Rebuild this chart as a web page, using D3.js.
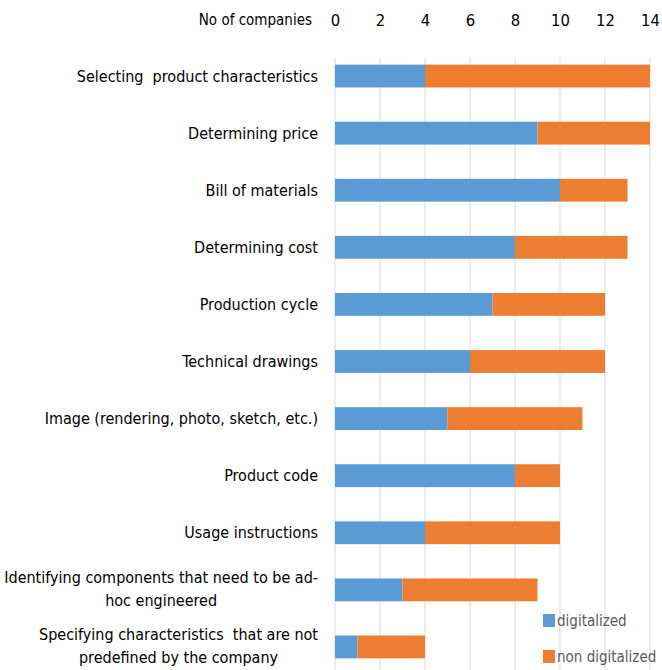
<!DOCTYPE html>
<html>
<head>
<meta charset="utf-8">
<script src="https://cdn.jsdelivr.net/npm/d3@7"></script>
<style>
  body { margin: 0; background: #fff; }
  text { font-family: "Liberation Sans Narrow", "DejaVu Sans Condensed", "Liberation Sans", sans-serif; fill: #000; white-space: pre; }
</style>
</head>
<body>
<div id="chart"></div>
<script>
// chart data
const categories = [
  ["Selecting  product characteristics"],
  ["Determining price"],
  ["Bill of materials"],
  ["Determining cost"],
  ["Production cycle"],
  ["Technical drawings"],
  ["Image (rendering, photo, sketch, etc.)"],
  ["Product code"],
  ["Usage instructions"],
  ["Identifying components that need to be ad-", "hoc engineered"],
  ["Specifying characteristics  that are not", "predefined by the company"]
];
const digitalized    = [4, 9, 10, 8, 7, 6, 5, 8, 4, 3, 1];
const nonDigitalized = [10, 5, 3, 5, 5, 6, 6, 2, 6, 6, 3];
const tickValues = [0, 2, 4, 6, 8, 10, 12, 14];
const seriesNames = ["digitalized", "non digitalized"];

(function chart(){
  let width = 662, height = 670,
      margin = ({ top: 47.5, right: 12, bottom: 0, left: 335 });

  const svg = d3.select("#chart").append("svg")
    .attr("width", width).attr("height", height);

  const rows = categories.map((c, i) => ({ id: i, label: c, d: digitalized[i], n: nonDigitalized[i] }));

  const x = d3.scaleLinear().domain([0, 14]).range([margin.left, 650]);
  // band step ~57px, bar ~23px
  const y = d3.scaleBand().domain(rows.map(d => d.id)).range([margin.top, 675.5]).paddingInner(0.6).paddingOuter(0.3);

  const color = d3.scaleOrdinal().domain(seriesNames).range(["#5b9bd5", "#ed7d31"]);

  // gridlines
  svg.append("g").selectAll("line").data(tickValues).join("line")
    .attr("x1", d => x(d)).attr("x2", d => x(d))
    .attr("y1", 57).attr("y2", height)
    .attr("stroke", "#d9d9d9").attr("stroke-width", 1);

  // top axis labels
  const axis = svg.append("g").attr("transform", "translate(0,20)")
    .call(d3.axisTop(x).tickValues(tickValues).tickSize(0).tickPadding(0));
  axis.select(".domain").remove();
  axis.selectAll("text").attr("dy", "0.35em").style("font-size", "16.5px")
    .attr("font-family", null);
  svg.append("text").attr("x", 312).attr("y", 20).attr("dy", "0.35em")
    .attr("text-anchor", "end").style("font-size", "15px").text("No of companies");

  // bars
  const bars = svg.append("g");
  bars.selectAll(".dig").data(rows).join("rect")
    .attr("x", x(0)).attr("y", d => y(d.id))
    .attr("width", d => x(d.d) - x(0)).attr("height", y.bandwidth())
    .attr("fill", color("digitalized"));
  bars.selectAll(".non").data(rows).join("rect")
    .attr("x", d => x(d.d)).attr("y", d => y(d.id))
    .attr("width", d => x(d.d + d.n) - x(d.d)).attr("height", y.bandwidth())
    .attr("fill", color("non digitalized"));

  // category labels
  const lab = svg.append("g").selectAll("text").data(rows).join("text")
    .style("font-size", "16px");
  lab.each(function(d){
    const t = d3.select(this);
    const cy = y(d.id) + y.bandwidth() / 2;
    if (d.label.length === 1) {
      t.attr("x", 318).attr("y", cy).attr("dy", "0.35em").attr("text-anchor", "end").text(d.label[0]);
    } else {
      // measure the longest line, center lines in a right-aligned block
      t.text(d.label[0]);
      const w = this.getComputedTextLength();
      t.text(null).attr("text-anchor", "middle");
      d.label.forEach((s, k) => {
        t.append("tspan").attr("x", 318 - w / 2).attr("y", cy + (k - 0.5) * 23 - 1).attr("dy", "0.35em").text(s);
      });
    }
  });

  // legend
  const leg = svg.append("g").selectAll("g").data(seriesNames).join("g")
    .attr("transform", (d, i) => `translate(543,${614 + i * 36})`);
  leg.append("rect").attr("width", 12).attr("height", 13).attr("fill", d => color(d));
  leg.append("text").attr("x", 14).attr("y", 7).attr("dy", "0.35em").style("font-size", "15px")
    .style("fill", "#595959").text(d => d);
})();
</script>
</body>
</html>
